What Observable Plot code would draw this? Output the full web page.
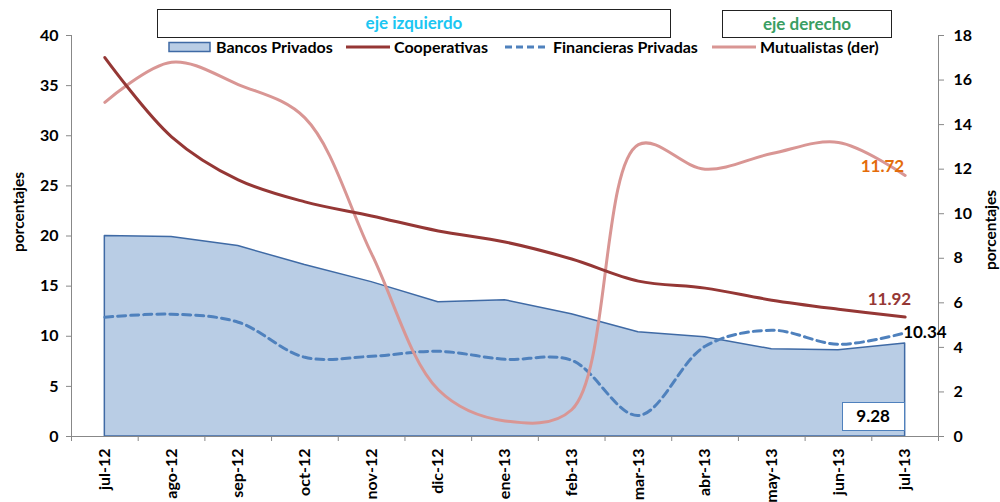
<!DOCTYPE html>
<html><head><meta charset="utf-8">
<script src="https://cdn.jsdelivr.net/npm/d3@7"></script>
<script src="https://cdn.jsdelivr.net/npm/@observablehq/plot@0.6"></script>
<style>
html,body{margin:0;padding:0;background:#fff;}
#wrap{position:relative;width:1000px;height:502px;font-family:Lato,"Open Sans",sans-serif;font-weight:bold;}
#wrap svg{position:absolute;left:0;top:0;}
.box{position:absolute;border:1.5px solid #222;background:#fff;box-sizing:border-box;text-align:center;font-size:17px;}
.leg{position:absolute;top:37px;font-size:16px;color:#000;display:flex;align-items:center;white-space:nowrap;}
.leg svg{position:static !important;margin-right:4px;}
.ytitle{position:absolute;font-size:15.5px;transform:rotate(-90deg);transform-origin:center;white-space:nowrap;}
.note{position:absolute;font-size:17px;}
</style></head>
<body><div id="wrap"></div>
<script>
const months = ["jul-12","ago-12","sep-12","oct-12","nov-12","dic-12","ene-13","feb-13","mar-13","abr-13","may-13","jun-13","jul-13"];
const bancos = [20.0,19.9,19.0,17.1,15.4,13.4,13.6,12.2,10.4,9.9,8.7,8.6,9.28];
const cooperativas = [37.8,29.9,25.6,23.4,22.0,20.5,19.4,17.7,15.5,14.8,13.6,12.7,11.92];
const financieras = [11.9,12.2,11.4,7.9,8.0,8.5,7.7,7.6,2.1,9.0,10.6,9.2,10.34];
const mutualistas = [15.0,16.8,15.8,14.3,8.2,2.1,0.7,1.2,13.1,12.0,12.7,13.2,11.72];
const leftTicks = [0,5,10,15,20,25,30,35,40];
const rightTicks = [0,2,4,6,8,10,12,14,16,18];

const K = 40/18; // right axis -> left axis
const rows = months.map((m,i)=>({i, m, b:bancos[i], c:cooperativas[i], f:financieras[i], mu:mutualistas[i]*K}));
const last = rows[rows.length-1];
const bounds = d3.range(-0.5, months.length, 1);

const chart = Plot.plot({
  width:1000, height:502,
  marginLeft:71, marginRight:62, marginTop:35, marginBottom:66,
  style:{fontFamily:"Lato, 'Open Sans', sans-serif", fontSize:"16px", fontWeight:"bold", color:"#000", background:"transparent"},
  x:{type:"linear", domain:[-0.5, months.length-0.5]},
  y:{domain:[0,40]},
  marks:[
    Plot.areaY(rows,{x:"i", y:"b", fill:"#B9CDE5", stroke:"#3F6AA5", strokeWidth:1.5}),
    Plot.lineY(rows,{x:"i", y:"f", stroke:"#4F81BD", strokeWidth:3, strokeDasharray:"8,5", curve:"catmull-rom"}),
    Plot.lineY(rows,{x:"i", y:"mu", stroke:"#D99694", strokeWidth:3, curve:"catmull-rom"}),
    Plot.lineY(rows,{x:"i", y:"c", stroke:"#953735", strokeWidth:3, curve:"catmull-rom"}),
    Plot.ruleY([0],{stroke:"#888", strokeWidth:1}),
    Plot.ruleX([-0.5],{stroke:"#888", strokeWidth:1}),
    Plot.ruleX([months.length-0.5],{stroke:"#888", strokeWidth:1}),
    Plot.axisY({anchor:"left", ticks:leftTicks, tickSize:5, tickPadding:8, stroke:"#888", label:null, fontSize:16}),
    Plot.axisY({anchor:"right", ticks:rightTicks.map(v=>v*K), tickFormat:d=>String(Math.round(d/K)), tickSize:5, tickPadding:10, stroke:"#888", label:null, fontSize:16}),
    Plot.axisX({ticks:bounds, tickFormat:()=>"", tickSize:5, stroke:"#888", label:null}),
    Plot.axisX({ticks:d3.range(months.length), tickFormat:i=>months[i], tickSize:0, tickPadding:12, tickRotate:-90, label:null, fontSize:16}),
    Plot.text([last],{x:"i", y:"mu", text:d=>mutualistas[d.i].toFixed(2), textAnchor:"end", dx:-1, dy:-9, fill:"#E46C0A", fontSize:17, fontWeight:"bold"}),
    Plot.text([last],{x:"i", y:"c", text:d=>d.c.toFixed(2), textAnchor:"end", dx:6, dy:-17, fill:"#953735", fontSize:17, fontWeight:"bold"}),
    Plot.text([last],{x:"i", y:"f", text:d=>d.f.toFixed(2), textAnchor:"start", dx:-2, dy:0, fill:"#000", fontSize:17, fontWeight:"bold"})
  ]
});
const wrap = document.getElementById("wrap");
wrap.appendChild(chart);

const xs = chart.scale("x"), ys = chart.scale("y");
// 9.28 box
const bx = document.createElement("div");
bx.className = "note";
const bxr = xs.apply(last.i), byb = ys.apply(0);
Object.assign(bx.style,{left:(bxr-63)+"px", top:(byb-34)+"px", width:"63px", height:"29px", border:"1.5px solid #4F81BD", background:"#fff", boxSizing:"border-box", textAlign:"center", lineHeight:"26px"});
bx.textContent = last.b.toFixed(2);
wrap.appendChild(bx);

// header boxes
function addBox(text,color,l,t,w,h){const d=document.createElement("div");d.className="box";Object.assign(d.style,{left:l+"px",top:t+"px",width:w+"px",height:h+"px",lineHeight:(h-3)+"px",color});d.textContent=text;wrap.appendChild(d);}
addBox("eje izquierdo","#1CC6F2",157,9,514,29);
addBox("eje derecho","#3A9E62",722,10,170,28);

// legend
const legend = [
  {label:"Bancos Privados", x:168, type:"area"},
  {label:"Cooperativas", x:346, type:"line", color:"#953735"},
  {label:"Financieras Privadas", x:505, type:"dash", color:"#4F81BD"},
  {label:"Mutualistas (der)", x:712, type:"line", color:"#D99694"}
];
legend.forEach(l=>{
  const d=document.createElement("div");d.className="leg";d.style.left=l.x+"px";
  let sw;
  if(l.type==="area") sw=`<svg width="44" height="12"><rect x="1" y="1.5" width="41" height="9" fill="#B9CDE5" stroke="#3F6AA5" stroke-width="1.5"/></svg>`;
  else if(l.type==="dash") sw=`<svg width="44" height="12"><line x1="0" y1="6" x2="44" y2="6" stroke="${l.color}" stroke-width="3" stroke-dasharray="7,4"/></svg>`;
  else sw=`<svg width="44" height="12"><line x1="0" y1="6" x2="44" y2="6" stroke="${l.color}" stroke-width="3"/></svg>`;
  d.innerHTML = sw + `<span>${l.label}</span>`;
  wrap.appendChild(d);
});

// y titles
function addTitle(text,cx,cy){const d=document.createElement("div");d.className="ytitle";d.textContent=text;wrap.appendChild(d);const w=d.offsetWidth,h=d.offsetHeight;d.style.left=(cx-w/2)+"px";d.style.top=(cy-h/2)+"px";}
addTitle("porcentajes",18,212);
addTitle("porcentajes",990,230);
</script></body></html>
